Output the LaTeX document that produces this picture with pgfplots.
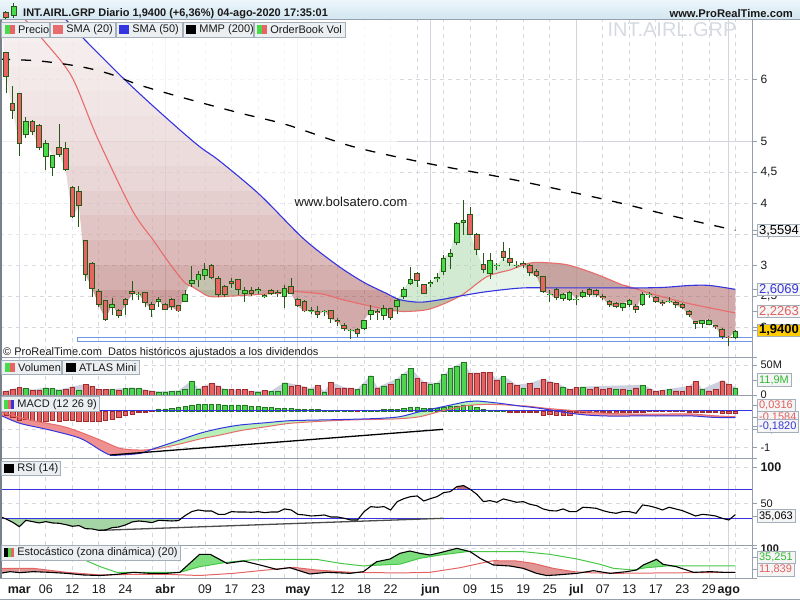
\documentclass[border=0pt]{standalone}
\usepackage{pgfplots}
\pgfplotsset{compat=1.18}
\usepackage{pgfplotstable}
\usepgfplotslibrary{fillbetween}
\usepackage{fontspec}
\setmainfont{Liberation Sans}

\definecolor{upc}{RGB}{72,218,72}
\definecolor{dnc}{RGB}{232,100,100}
\definecolor{edge}{RGB}{38,88,22}
\definecolor{smaR}{RGB}{232,108,108}
\definecolor{smaB}{RGB}{52,52,225}
\definecolor{gridd}{RGB}{214,216,222}
\definecolor{grids}{RGB}{210,212,222}
\definecolor{framec}{RGB}{150,160,172}
\definecolor{boxfill}{RGB}{236,239,242}
\definecolor{boxedge}{RGB}{165,175,186}
\definecolor{zonec}{RGB}{110,150,235}
\definecolor{volg}{RGB}{78,212,78}
\definecolor{volgE}{RGB}{35,120,35}
\definecolor{volr}{RGB}{228,98,98}
\definecolor{volrE}{RGB}{160,45,45}
\definecolor{atlas}{RGB}{204,207,222}
\definecolor{redBot}{RGB}{164,79,79}
\definecolor{redUni}{RGB}{173,100,100}
\definecolor{grnTop}{RGB}{164,213,164}
\definecolor{grnA}{RGB}{173,217,173}
\definecolor{grnB}{RGB}{213,235,213}
\definecolor{txtblue}{RGB}{55,55,215}
\definecolor{txtred}{RGB}{225,95,95}
\definecolor{txtgreen}{RGB}{50,185,50}
\definecolor{gold}{RGB}{255,204,0}
\definecolor{stG}{RGB}{70,200,70}
\definecolor{stR}{RGB}{228,100,100}
\definecolor{hdrTop}{RGB}{236,246,251}
\definecolor{hdrBot}{RGB}{210,229,240}
\definecolor{wm}{RGB}{214,218,224}
\definecolor{macdR}{RGB}{240,145,145}
\definecolor{macdG}{RGB}{185,240,185}
\definecolor{rsiG}{RGB}{165,212,165}
\definecolor{rsiR}{RGB}{190,110,110}
\definecolor{stGF}{RGB}{125,222,125}
\definecolor{stRF}{RGB}{225,150,150}

% rising candles: index, open, high, low, close
\pgfplotstableread{
i o h l c
1 5.09 5.38 5.05 5.32
4 4.74 5.02 4.54 4.96
5 4.56 4.78 4.44 4.77
14 2.30 2.46 2.20 2.37
18 2.51 2.56 2.44 2.54
21 2.40 2.48 2.32 2.45
25 2.41 2.59 2.40 2.54
26 2.70 2.99 2.65 2.76
27 2.75 2.91 2.65 2.86
28 2.82 3.03 2.76 2.94
34 2.53 2.64 2.41 2.60
36 2.58 2.64 2.54 2.61
37 2.49 2.54 2.46 2.52
40 2.48 2.67 2.30 2.63
44 2.25 2.33 2.21 2.28
46 2.24 2.27 2.17 2.26
50 1.93 1.97 1.80 1.95
52 1.96 2.12 1.95 2.11
53 2.19 2.35 2.12 2.27
55 2.17 2.35 2.12 2.31
57 2.33 2.47 2.21 2.44
58 2.49 2.65 2.45 2.62
59 2.69 2.96 2.67 2.77
62 2.69 2.75 2.64 2.72
63 2.78 2.87 2.72 2.80
64 2.88 3.16 2.84 3.12
65 3.13 3.25 2.93 3.20
66 3.35 3.70 3.32 3.67
67 3.68 4.05 3.48 3.73
71 2.85 3.20 2.77 3.08
72 2.98 3.03 2.92 3.00
75 2.98 3.07 2.95 3.00
80 2.51 2.60 2.40 2.53
82 2.45 2.55 2.42 2.53
83 2.44 2.58 2.42 2.57
84 2.43 2.51 2.35 2.45
85 2.49 2.59 2.46 2.56
91 2.30 2.39 2.25 2.38
92 2.36 2.45 2.33 2.43
94 2.36 2.56 2.34 2.54
95 2.51 2.56 2.46 2.53
98 2.40 2.49 2.38 2.42
103 2.05 2.12 1.98 2.11
104 2.04 2.13 2.03 2.12
108 1.82 1.95 1.81 1.94
}\upcandles

% falling candles
\pgfplotstableread{
i o h l c
-2 6.43 6.44 5.77 6.03
-1 5.62 5.89 5.35 5.49
0 5.77 5.78 4.76 4.95
2 5.33 5.34 5.09 5.14
3 5.25 5.27 4.85 4.88
6 4.90 5.27 4.74 4.78
7 4.88 4.98 4.52 4.53
8 4.26 4.27 3.76 3.78
9 4.20 4.28 3.62 3.95
10 3.40 3.41 2.74 2.84
11 3.04 3.05 2.48 2.62
12 2.58 2.61 2.33 2.35
13 2.43 2.44 2.10 2.12
15 2.28 2.29 2.14 2.18
16 2.45 2.46 2.20 2.35
17 2.58 2.74 2.43 2.53
19 2.56 2.57 2.32 2.38
20 2.37 2.41 2.16 2.28
22 2.37 2.38 2.27 2.28
23 2.45 2.46 2.27 2.32
24 2.35 2.36 2.24 2.25
29 3.00 3.01 2.77 2.79
30 2.79 2.82 2.48 2.51
31 2.66 2.68 2.49 2.51
32 2.74 2.79 2.63 2.69
33 2.77 2.78 2.52 2.60
35 2.60 2.64 2.50 2.53
38 2.60 2.62 2.51 2.53
39 2.57 2.60 2.49 2.53
41 2.66 2.79 2.53 2.54
42 2.45 2.46 2.32 2.34
43 2.42 2.43 2.24 2.25
45 2.26 2.34 2.15 2.19
47 2.27 2.28 2.06 2.13
48 2.11 2.14 2.01 2.08
49 2.03 2.06 1.94 1.96
51 1.97 1.98 1.84 1.89
54 2.26 2.29 2.11 2.22
56 2.30 2.31 2.12 2.14
60 2.87 2.88 2.65 2.74
61 2.69 2.70 2.53 2.54
68 3.82 3.94 3.48 3.49
69 3.50 3.51 3.16 3.24
70 3.02 3.20 2.87 2.92
73 3.22 3.37 3.07 3.12
74 3.12 3.27 2.99 3.03
76 3.03 3.07 2.95 3.00
77 3.00 3.01 2.82 2.87
78 2.91 2.93 2.80 2.82
79 2.82 2.83 2.55 2.57
81 2.62 2.63 2.43 2.46
86 2.61 2.63 2.48 2.51
87 2.60 2.61 2.48 2.51
88 2.50 2.53 2.43 2.46
89 2.42 2.44 2.33 2.35
90 2.39 2.40 2.30 2.32
93 2.34 2.37 2.23 2.28
96 2.49 2.50 2.39 2.41
97 2.41 2.43 2.34 2.37
99 2.40 2.42 2.31 2.35
100 2.37 2.38 2.29 2.31
101 2.26 2.27 2.16 2.19
102 2.09 2.10 1.97 2.05
105 2.03 2.04 1.97 2.00
106 1.97 1.98 1.80 1.84
107 1.84 1.85 1.69 1.82
}\dncandles

% closing prices (all sessions)
\pgfplotstableread{
i c
-2 6.03
-1 5.49
0 4.95
1 5.32
2 5.14
3 4.88
4 4.96
5 4.77
6 4.78
7 4.53
8 3.78
9 3.95
10 2.84
11 2.62
12 2.35
13 2.12
14 2.37
15 2.18
16 2.35
17 2.53
18 2.54
19 2.38
20 2.28
21 2.45
22 2.28
23 2.32
24 2.25
25 2.54
26 2.76
27 2.86
28 2.94
29 2.79
30 2.51
31 2.51
32 2.69
33 2.60
34 2.60
35 2.53
36 2.61
37 2.52
38 2.53
39 2.53
40 2.63
41 2.54
42 2.34
43 2.25
44 2.28
45 2.19
46 2.26
47 2.13
48 2.08
49 1.96
50 1.95
51 1.89
52 2.11
53 2.27
54 2.22
55 2.31
56 2.14
57 2.44
58 2.62
59 2.77
60 2.74
61 2.54
62 2.72
63 2.80
64 3.12
65 3.20
66 3.67
67 3.73
68 3.49
69 3.24
70 2.92
71 3.08
72 3.00
73 3.12
74 3.03
75 3.00
76 3.00
77 2.87
78 2.82
79 2.57
80 2.53
81 2.46
82 2.53
83 2.57
84 2.45
85 2.56
86 2.51
87 2.51
88 2.46
89 2.35
90 2.32
91 2.38
92 2.43
93 2.28
94 2.54
95 2.53
96 2.41
97 2.37
98 2.42
99 2.35
100 2.31
101 2.19
102 2.05
103 2.11
104 2.12
105 2.00
106 1.84
107 1.82
108 1.94
}\closes

\pgfplotstableread{
i v
-3 7.45
0.1 7.05
3.6 6.63
7.9 6.04
11.7 5.07
17.0 3.89
20.2 3.40
22.7 3.02
25 2.71
26 2.655
27.3 2.57
28.8 2.49
32.2 2.50
38.3 2.54
40 2.56
41 2.565
41.9 2.57
45.8 2.53
48.8 2.44
52.4 2.35
56 2.27
57 2.26
58.2 2.25
61.9 2.29
66.5 2.50
70.5 2.81
74.0 2.92
75 2.96
77.5 3.04
81.6 3.02
83.8 2.97
87.3 2.84
90.9 2.68
91.5 2.665
95.9 2.52
100.9 2.38
108 2.2263
}\smaA

\pgfplotstableread{
i v
-3 7.90
6.1 7.05
9.9 6.63
15.6 6.02
19.7 5.61
24.2 5.18
27.3 4.90
30.3 4.67
36.3 4.13
42.8 3.43
47.9 3.00
51.8 2.73
55.4 2.54
57.4 2.44
60.4 2.40
63.5 2.44
66.5 2.50
70.5 2.57
75.9 2.63
81.6 2.63
87.6 2.63
91.5 2.63
93.6 2.63
97.4 2.64
101.1 2.67
104.1 2.67
108 2.6069
}\smaB

\pgfplotstableread{
i v
-2.9 6.32
3.1 6.29
9.2 6.20
13.7 6.08
18.2 5.90
25.3 5.68
33.3 5.45
40.4 5.26
50.3 4.91
61.5 4.64
72.5 4.42
83.1 4.18
90.6 4.00
98.9 3.78
108 3.5594
}\mmp

\pgfplotstableread{
i v
1 10.8
4 11.9
5 10.8
6 8.1
9 8.1
14 9.7
16 10.8
17 11.9
18 10.8
21 5.3
22 5.3
23 6.4
24 6.9
25 9.2
26 23.1
27 9.7
31 9.2
36 5.3
38 6.4
39 6.4
40 20.3
44 9.7
46 5.3
51 9.2
52 18.1
53 31.9
55 15.3
57 26.4
58 34.2
59 44.2
62 17.5
63 19.2
64 34.2
65 44.2
66 48.1
67 54.2
73 31.4
76 10.8
82 12.5
85 13.6
90 9.2
92 8.1
94 16.4
98 9.2
103 9.2
108 11.9
}\volG

\pgfplotstableread{
i v
-2 6.4
-1 9.2
0 12.5
2 8.1
3 8.1
7 9.2
8 13.6
10 18.1
11 14.7
12 9.2
13 9.2
15 8.1
19 8.1
20 6.4
28 14.7
29 19.2
30 15.3
32 9.2
33 9.2
34 9.2
35 6.4
37 8.1
41 15.3
42 16.4
43 13.6
45 16.4
47 20.8
48 10.8
49 11.9
50 11.9
54 11.9
56 18.1
60 27.5
61 20.8
68 35.8
69 35.8
70 37.5
71 37.5
72 24.7
74 19.2
75 16.4
77 19.2
78 10.8
79 25.8
80 20.8
81 19.2
83 9.2
84 12.5
86 9.2
87 12.5
88 9.2
89 10.8
91 9.2
93 11.9
95 9.2
96 6.4
97 8.1
99 6.9
100 6.4
101 14.7
102 23.1
104 6.9
105 9.2
106 23.6
107 18.1
}\volR

\pgfplotstableread{
i v
-2.9 5
-2 7
0 13
2 9
4 12.5
6 9
8 14
10 18.5
12 10
14 10
17 12.5
19 9
21 6
24 7.5
26 24
27 11
29 20
31 10
35 7
38 7
40 21
42 17
44 11
45 17
46 6
47 21.5
49 13
51 10
53 33
54 13
57 27.5
59 45
61 22
63 20
65 45
67 55
68 37
71 38
72 26
73 32
75 17
77 20
79 27
81 20
83 10
85 14
94 17
96 7
101 15
102 24
103 10
106 24.5
108 13
}\atlas

\pgfplotstableread{
i h
21 0.055
22 0.055
23 0.073
24 0.1
25 0.136
26 0.164
27 0.19
28 0.19
29 0.19
30 0.19
31 0.164
32 0.164
33 0.164
34 0.164
35 0.136
36 0.118
37 0.1
38 0.091
39 0.073
40 0.073
41 0.073
42 0.055
43 0.045
44 0.045
45 0.045
46 0.027
47 0.027
48 0.01
49 0.004
50 0.004
52 0.004
53 0.027
54 0.027
55 0.045
56 0.045
57 0.045
58 0.073
59 0.091
60 0.091
61 0.073
62 0.073
63 0.073
64 0.1
65 0.118
66 0.136
67 0.164
68 0.164
69 0.091
70 0.045
71 0.01
72 0.004
73 0.004
}\histP

\pgfplotstableread{
i h
-2 -0.11
-1 -0.173
0 -0.245
1 -0.218
2 -0.245
3 -0.273
4 -0.273
5 -0.245
6 -0.273
7 -0.245
8 -0.245
9 -0.273
10 -0.273
11 -0.273
12 -0.273
13 -0.245
14 -0.218
15 -0.173
16 -0.127
17 -0.082
18 -0.045
19 -0.027
20 -0.01
51 -0.018
74 -0.036
75 -0.036
76 -0.036
77 -0.036
78 -0.045
79 -0.109
80 -0.082
81 -0.109
82 -0.109
83 -0.109
84 -0.045
85 -0.045
86 -0.045
87 -0.045
88 -0.045
89 -0.045
90 -0.064
91 -0.045
92 -0.045
93 -0.036
94 -0.036
95 -0.009
96 -0.009
97 -0.009
98 -0.009
99 -0.009
100 -0.009
101 -0.036
102 -0.036
103 -0.036
104 -0.036
105 -0.045
106 -0.064
107 -0.064
108 -0.064
}\histN

\pgfplotstableread{
i v
-2.9 -0.109
0.1 -0.336
4.6 -0.518
9.2 -0.745
12.2 -1.064
13.7 -1.2
15.2 -1.2
18.2 -1.155
20 -1.045
21.2 -0.973
24.2 -0.791
27.2 -0.609
30.3 -0.473
33.3 -0.382
37.3 -0.318
40.8 -0.264
45.3 -0.245
49.9 -0.227
54.4 -0.2
57.4 -0.155
60.4 -0.018
63.9 0.118
67.5 0.255
69.0 0.273
72.5 0.209
75.5 0.136
78.5 0.073
82.5 -0.045
85.5 -0.109
88.6 -0.136
92.6 -0.136
97.6 -0.136
101.6 -0.136
104.6 -0.173
108 -0.182
}\macd

\pgfplotstableread{
i v
-2.9 -0.018
1.6 -0.245
7.1 -0.445
12.2 -0.791
15.2 -1.018
18.2 -1.064
20 -1.045
21.2 -1.018
24.2 -0.9
27.2 -0.764
30.3 -0.655
33.3 -0.536
37.3 -0.427
40.8 -0.336
45.3 -0.282
49.9 -0.245
54.4 -0.227
57.4 -0.21
60.4 -0.155
63.9 0.009
67.5 0.145
70.5 0.18
73.5 0.164
75.5 0.14
76.5 0.136
79.5 0.073
82.5 0.027
85.5 -0.018
88.6 -0.064
92.6 -0.082
97.6 -0.082
101.6 -0.082
104.6 -0.127
108 -0.158
}\signal

\pgfplotstableread{
i v
-2.9 32.3
-2 29.1
-1 24.5
0 18.5
1 27.2
2 25.4
3 23.6
4 25.4
5 23.6
6 23.1
7 21.3
8 19.0
9 19.9
10 15.7
11 15.3
12 13.4
13 13.9
14 17.1
15 18.0
16 20.8
17 24.9
18 26.3
19 25.4
20 24.0
21 27.2
22 26.8
23 26.3
24 26.8
25 33.7
26 39.2
27 41.5
28 40.1
29 40.1
30 35.5
31 35.5
32 39.2
33 38.7
34 38.7
35 38.3
36 39.2
37 37.8
38 38.7
39 38.7
40 42.9
41 41.5
42 35.5
43 34.6
44 33.2
45 33.7
46 34.6
47 31.8
48 31.8
49 30.0
50 27.7
51 27.7
52 39.2
53 46.1
54 45.2
55 46.1
56 41.5
57 53.0
58 57.1
59 59.9
60 60.8
61 53.9
62 57.1
63 59.9
64 65.4
65 66.8
66 73.7
67 75.1
68 70.0
69 63.1
70 53.0
71 54.4
72 52.1
73 56.7
74 54.4
75 52.1
76 53.0
77 49.3
78 47.5
79 42.9
80 40.6
81 40.1
82 42.9
83 39.2
84 39.2
85 45.2
86 44.7
87 43.8
88 40.6
89 38.3
90 36.9
91 39.2
92 39.2
93 36.9
94 48.4
95 47.0
96 44.7
97 41.5
98 45.2
99 42.9
100 40.6
101 36.9
102 33.2
103 35.5
104 34.6
105 33.2
106 30.0
107 27.7
108 35.06
}\rsi

\pgfplotstableread{
i v
-2.9 8.0
-1.4 14.2
0.1 10.5
2.1 14.2
4.6 11.7
7.1 8.0
9.7 1.9
12.2 0
14.7 4.3
17.2 11.7
19.7 8.0
22.2 8.0
24.2 11.7
27.2 78.4
28.8 78.4
31.3 45.1
33.8 53.7
36.3 38.9
38.8 22.8
40.8 29.0
43.8 5.6
46.4 11.7
49.9 8.0
51.9 14.2
53.9 51.2
55.9 61.0
57.4 82.1
58.9 90.7
60.4 82.1
61.9 75.9
63.5 84.6
66.0 100.6
68.0 88.3
69.5 63.6
71.5 38.9
74.0 35.2
76.0 26.5
78.0 8.0
79.5 0
81.0 1.9
84.1 8.0
86.6 17.9
89.1 8.0
91.6 14.2
93.1 20.4
94.1 38.9
96.1 59.9
97.1 41.4
99.1 32.7
101.7 11.7
104.2 14.2
106.2 11.7
108 11.7
}\stK

\pgfplotstableread{
i v
-2.9 98
4 90
9 70
10.2 53.7
12.2 32.7
14.7 11.7
24.2 11.7
27.2 32.7
31.3 48.8
34.8 57.4
38.3 59.9
44.8 59.9
48.4 45.1
51.9 35.2
52.5 36.5
57.4 42
60.4 63.6
63.5 75.9
67.5 88.3
76.0 88.3
80.0 78.4
84.1 61.1
87.6 41.4
89.6 26.5
92.6 20.4
93.5 24.5
94.6 29.0
97.6 35.2
108 35.25
}\stGr

\pgfplotstableread{
i v
-2.9 26.5
2.1 26.5
7.1 11.7
12.2 1.9
17.2 4.3
22.2 4.3
27.2 0
32.3 8.0
37.3 20.4
38.8 24.0
41.3 30.2
44.8 20.4
49.9 11.7
57.4 9.5
61.9 11.7
66.5 29.0
69.5 45.1
71.5 54.9
75.0 53.7
77.5 45.1
80.5 26.5
83.6 14.2
85.6 10.5
89.6 8.0
108 11.84
}\stRd

\pgfplotsset{
  panel/.style={
    scale only axis, anchor=south west, width=752pt,
    xmin=-2.911, xmax=110.5,
    axis line style={draw=none},
    xtick={4,8,...,108}, xticklabels={}, xtick style={draw=none},
    xmajorgrids=true, ymajorgrids=true,
    major grid style={gridd, line width=0.8pt, dash pattern=on 4pt off 4pt},
    extra x ticks={0,22,42,62,84,107}, extra x tick labels={},
    extra x tick style={major tick length=0pt, grid=major,
        major grid style={grids, line width=0.8pt, solid}},
    ytick pos=right, yticklabel pos=right,
    tick align=outside, major tick length=5pt,
    ytick style={framec, line width=0.8pt},
    yticklabel style={font=\fontsize{11}{13}\selectfont, anchor=west, text=black!90},
    /pgf/number format/use comma,
    /pgf/number format/assume math mode=true,
  },
  np/.style={draw=none, forget plot},
}

\newcommand{\legbox}[5]{%
  \draw[fill=boxfill, draw=boxedge, line width=0.8pt] (#1,#3-7.4) rectangle (#2,#3+7.4);
  \begin{scope}[shift={(#1,#3)}] #4 \end{scope}
  \node[anchor=west, inner sep=0, font=\fontsize{11}{13}\selectfont, text=black!90] at (#1+16.2,#3) {#5};}
% value box: y, text colour, fill, font size, text
\newcommand{\valbox}[5]{%
  \draw[framec, line width=0.8pt] (752,#1) -- (757,#1);
  \node[anchor=west, draw=boxedge, fill=#3, text=#2, line width=0.8pt, inner xsep=2.2pt, inner ysep=0pt,
        minimum height=12.3pt, font=\fontsize{#4}{#4}\selectfont] at (756.5,#1) {#5};}

\begin{document}
\begin{tikzpicture}[x=1pt,y=1pt]

% ================= MAIN PRICE PANEL =================
\begin{axis}[panel, at={(0pt,242pt)}, height=338pt, ymin=1.5, ymax=6.9516,
  ytick={2,2.5,3,3.5,4,4.5,6}, extra y ticks={5}, extra y tick labels={5},
  yticklabel style={font=\fontsize{12}{14}\selectfont},
  extra y tick style={grid=major, major grid style={grids, line width=0.8pt, solid}}]
% SMA20 vs SMA50 zones
\addplot[np, smooth, name path=sa1, restrict x to domain=-3:66.5] table[x=i,y=v]{\smaA};
\addplot[np, smooth, name path=sb1, restrict x to domain=-3:66.5] table[x=i,y=v]{\smaB};
\addplot[draw=none, fill=redBot, fill opacity=0.55] fill between[of=sa1 and sb1];
\addplot[np, smooth, name path=sa2, restrict x to domain=66.5:91.5] table[x=i,y=v]{\smaA};
\addplot[np, smooth, name path=sb2, restrict x to domain=66.5:91.5] table[x=i,y=v]{\smaB};
\addplot[draw=none, fill=grnB, fill opacity=0.55] fill between[of=sa2 and sb2];
\addplot[np, smooth, name path=sa3, restrict x to domain=91.5:111] table[x=i,y=v]{\smaA};
\addplot[np, smooth, name path=sb3, restrict x to domain=91.5:111] table[x=i,y=v]{\smaB};
\addplot[draw=none, fill=redUni, fill opacity=0.55] fill between[of=sa3 and sb3];
% close vs SMA20 zones
\addplot[np, name path=c1, restrict x to domain=-3:26] table[x=i,y=c]{\closes};
\addplot[np, smooth, name path=a1, restrict x to domain=-3:26] table[x=i,y=v]{\smaA};
\addplot[draw=none, fill=redBot, fill opacity=0.55] fill between[of=c1 and a1];
\addplot[np, name path=c2, restrict x to domain=25:41] table[x=i,y=c]{\closes};
\addplot[np, smooth, name path=a2, restrict x to domain=25:41] table[x=i,y=v]{\smaA};
\addplot[draw=none, fill=grnTop, fill opacity=0.45] fill between[of=c2 and a2];
\addplot[np, name path=c3, restrict x to domain=40:57] table[x=i,y=c]{\closes};
\addplot[np, smooth, name path=a3, restrict x to domain=40:57] table[x=i,y=v]{\smaA};
\addplot[draw=none, fill=redUni, fill opacity=0.55] fill between[of=c3 and a3];
\addplot[np, name path=c4, restrict x to domain=56:75] table[x=i,y=c]{\closes};
\addplot[np, smooth, name path=a4, restrict x to domain=56:75] table[x=i,y=v]{\smaA};
\addplot[draw=none, fill=grnA, fill opacity=0.55] fill between[of=c4 and a4];
\addplot[np, name path=c5, restrict x to domain=75:111] table[x=i,y=c]{\closes};
\addplot[np, smooth, name path=a5, restrict x to domain=75:111] table[x=i,y=v]{\smaA};
\addplot[draw=none, fill=redUni, fill opacity=0.55] fill between[of=c5 and a5];
% vertical fade of the zones (lighter towards the top)
\pgfplotsinvokeforeach{2.6,3.0,3.4,3.8,4.2,4.6,5.0,5.4,5.8,6.2,6.6}{
  \addplot[draw=none, fill=white, fill opacity=0.16, forget plot] coordinates {(-3,#1) (57,#1) (57,8) (-3,8)} -- cycle;
}
\addplot[smaR, line width=1.1pt, smooth] table[x=i,y=v]{\smaA};
\addplot[smaB, line width=1.1pt, smooth] table[x=i,y=v]{\smaB};
\addplot[black, line width=1.3pt, dash pattern=on 10pt off 11pt, smooth] table[x=i,y=v]{\mmp};
\addplot[zonec, line width=1pt] coordinates {(112,1.834) (8.85,1.834) (8.85,1.774) (112,1.774)};
% candles: wicks (low to high) and bodies (open to close), drawn as vertical segments
\addplot[forget plot, edge, line width=1pt, -, quiver={u=0, v=\thisrow{h}-\thisrow{l}}] table[x=i, y=l]{\upcandles};
\addplot[forget plot, edge, line width=1pt, -, quiver={u=0, v=\thisrow{h}-\thisrow{l}}] table[x=i, y=l]{\dncandles};
\addplot[forget plot, edge, line width=5.6pt, -, quiver={u=0, v=\thisrow{c}-\thisrow{o}}] table[x=i, y=o]{\upcandles};
\addplot[forget plot, edge, line width=5.6pt, -, quiver={u=0, v=\thisrow{o}-\thisrow{c}}] table[x=i, y=c]{\dncandles};
\addplot[forget plot, upc, line width=3.6pt, -, quiver={u=0, v=\thisrow{c}-\thisrow{o}-0.032}] table[x=i, y expr=\thisrow{o}+0.016]{\upcandles};
\addplot[forget plot, dnc, line width=3.6pt, -, quiver={u=0, v=\thisrow{o}-\thisrow{c}-0.032}] table[x=i, y expr=\thisrow{c}+0.016]{\dncandles};
\end{axis}

% ================= VOLUME =================
\begin{axis}[panel, at={(0pt,204pt)}, height=38pt, ymin=-1.667, ymax=61.667,
  ytick={0,50}, yticklabels={0,50M}]
\addplot[fill=atlas, draw=none] table[x=i,y=v]{\atlas} \closedcycle;
\addplot[ybar, bar width=4.6pt, bar shift=0pt, fill=volg, draw=volgE, line width=0.6pt] table[x=i,y=v]{\volG};
\addplot[ybar, bar width=4.6pt, bar shift=0pt, fill=volr, draw=volrE, line width=0.6pt] table[x=i,y=v]{\volR};
\end{axis}

% ================= MACD =================
\begin{axis}[panel, at={(0pt,142pt)}, height=62pt, ymin=-1.2807, ymax=0.4087,
  ytick={-1,-0.5}, yticklabels={-1,{-0,5}}]
\addplot[ybar, bar width=4.4pt, bar shift=0pt, fill=volg, draw=volgE, line width=0.6pt] table[x=i,y=h]{\histP};
\addplot[ybar, bar width=4.4pt, bar shift=0pt, fill=volr, draw=volrE, line width=0.6pt] table[x=i,y=h]{\histN};
\addplot[np, smooth, name path=m1, restrict x to domain=-3:20] table[x=i,y=v]{\macd};
\addplot[np, smooth, name path=s1, restrict x to domain=-3:20] table[x=i,y=v]{\signal};
\addplot[draw=none, fill=macdR] fill between[of=m1 and s1];
\addplot[np, smooth, name path=m2, restrict x to domain=20:75.5] table[x=i,y=v]{\macd};
\addplot[np, smooth, name path=s2, restrict x to domain=20:75.5] table[x=i,y=v]{\signal};
\addplot[draw=none, fill=macdG] fill between[of=m2 and s2];
\addplot[np, smooth, name path=m3, restrict x to domain=75.5:111] table[x=i,y=v]{\macd};
\addplot[np, smooth, name path=s3, restrict x to domain=75.5:111] table[x=i,y=v]{\signal};
\addplot[draw=none, fill=macdR] fill between[of=m3 and s3];
\addplot[smaB, line width=1pt] coordinates {(-3,0) (111,0)};
\addplot[smaR, line width=1pt, smooth] table[x=i,y=v]{\signal};
\addplot[smaB, line width=1pt, smooth] table[x=i,y=v]{\macd};
\addplot[black, line width=1.3pt] coordinates {(13.7,-1.2) (63.9,-0.5)};
\end{axis}

% ================= RSI =================
\begin{axis}[panel, at={(0pt,55pt)}, height=87pt, ymin=-6.83, ymax=113.17,
  ytick={50,100}, yticklabels={50,{\fontsize{12.5}{14}\selectfont\textbf{100}}}]
\addplot[np, name path=r1, restrict x to domain=-3:24.5] table[x=i,y=v]{\rsi};
\addplot[np, name path=t1] coordinates {(-2.9,30) (24,30)};
\addplot[draw=none, fill=rsiG] fill between[of=r1 and t1];
\addplot[np, name path=r2, restrict x to domain=49:51.5] table[x=i,y=v]{\rsi};
\addplot[np, name path=t2] coordinates {(49,30) (51,30)};
\addplot[draw=none, fill=rsiG] fill between[of=r2 and t2];
\addplot[np, name path=r3, restrict x to domain=106:107.5] table[x=i,y=v]{\rsi};
\addplot[np, name path=t3] coordinates {(106,30) (107,30)};
\addplot[draw=none, fill=rsiG] fill between[of=r3 and t3];
\addplot[np, name path=r4, restrict x to domain=65.6:68.4] table[x=i,y=v]{\rsi};
\addplot[np, name path=t4] coordinates {(66,70) (68,70)};
\addplot[draw=none, fill=rsiR] fill between[of=r4 and t4];
\addplot[smaB, line width=1pt] coordinates {(-3,30) (111,30)};
\addplot[smaB, line width=1pt] coordinates {(-3,70) (111,70)};
\addplot[black!70, line width=1.3pt] coordinates {(12.2,13.4) (63.9,30)};
\addplot[black, line width=1.1pt] table[x=i,y=v]{\rsi};
\end{axis}

% ================= STOCHASTIC =================
\begin{axis}[panel, at={(0pt,22pt)}, height=33pt, ymin=-9.26, ymax=112.96,
  ytick={100}, yticklabels={\textbf{100}},
  xtick={0,4,8,12,16,22,28,32,36,42,48,52,56,62,68,72,76,80,84,88,92,96,100,104,107},
  xticklabels={\textbf{mar},06,12,18,24,\textbf{abr},09,17,23,\textbf{may},12,18,22,\textbf{jun},09,15,19,25,\textbf{jul},07,13,17,23,29,\textbf{ago}},
  xmajorgrids=false,
  extra x ticks={4,8,...,108}, extra x tick labels={},
  extra x tick style={major tick length=0pt, grid=major, major grid style={gridd, line width=0.8pt, dash pattern=on 4pt off 4pt}},
  xticklabel style={font=\fontsize{12.5}{14}\selectfont, anchor=base, yshift=-10.5pt, text=black!90}]
\pgfplotsinvokeforeach{0,22,42,62,84,107}{\draw[grids, line width=0.8pt] (axis cs:#1,-9.26) -- (axis cs:#1,112.96);}
\addplot[np, name path=k1, restrict x to domain=24:31.5] table[x=i,y=v]{\stK};
\addplot[np, name path=g1, restrict x to domain=24:31.5] table[x=i,y=v]{\stGr};
\addplot[draw=none, fill=stGF] fill between[of=k1 and g1];
\addplot[np, name path=k2, restrict x to domain=52:68.5] table[x=i,y=v]{\stK};
\addplot[np, name path=g2, restrict x to domain=52:68.5] table[x=i,y=v]{\stGr};
\addplot[draw=none, fill=stGF] fill between[of=k2 and g2];
\addplot[np, name path=k3, restrict x to domain=93.3:98] table[x=i,y=v]{\stK};
\addplot[np, name path=g3, restrict x to domain=93.3:98] table[x=i,y=v]{\stGr};
\addplot[draw=none, fill=stGF] fill between[of=k3 and g3];
\addplot[np, name path=k4, restrict x to domain=-3:14] table[x=i,y=v]{\stK};
\addplot[np, name path=q4, restrict x to domain=-3:14] table[x=i,y=v]{\stRd};
\addplot[draw=none, fill=stRF] fill between[of=k4 and q4];
\addplot[np, name path=k5, restrict x to domain=38.5:51] table[x=i,y=v]{\stK};
\addplot[np, name path=q5, restrict x to domain=38.5:51] table[x=i,y=v]{\stRd};
\addplot[draw=none, fill=stRF] fill between[of=k5 and q5];
\addplot[np, name path=k6, restrict x to domain=70.5:85.3] table[x=i,y=v]{\stK};
\addplot[np, name path=q6, restrict x to domain=70.5:85.3] table[x=i,y=v]{\stRd};
\addplot[draw=none, fill=stRF] fill between[of=k6 and q6];
\addplot[stG, line width=1pt] table[x=i,y=v]{\stGr};
\addplot[stR, line width=1pt] table[x=i,y=v]{\stRd};
\addplot[black, line width=1.1pt] table[x=i,y=v]{\stK};
\end{axis}

% ================= FRAMES =================
\shade[top color=hdrTop, bottom color=hdrBot] (0,580) rectangle (800,600);
\draw[framec, line width=1pt] (0,580) -- (800,580);
\foreach \yy in {242,204,142,55,22} {\draw[framec, line width=1pt] (0,\yy) -- (757,\yy);}
\draw[framec, line width=1pt] (752,22) -- (752,580);
\draw[framec!80!black, line width=1.6pt] (0.8,22) -- (0.8,580);
\draw[framec, line width=1pt] (0,0.5) -- (800,0.5);

% header
\draw[edge, line width=0.8pt] (5.7,589) -- (5.7,581);
\filldraw[fill=dnc, draw=edge, line width=0.6pt] (3.5,587.3) rectangle (8,582.7);
\draw[edge, line width=0.8pt] (13.5,596.7) -- (13.5,582.3);
\filldraw[fill=upc, draw=edge, line width=0.6pt] (11,593.3) rectangle (16,584.7);
\node[anchor=west, inner sep=0, font=\bfseries\fontsize{11}{13}\selectfont, text=black!90] at (23,586.5) {INT.AIRL.GRP Diario 1,9400 (+6,36\%) 04-ago-2020 17:35:01};
\node[anchor=east, inner sep=0, font=\bfseries\fontsize{11.2}{13}\selectfont, text=black!90] at (793,586.5) {www.ProRealTime.com};

% watermark
\node[font=\fontsize{20}{22}\selectfont, text=wm] at (672,570.5) {INT.AIRL.GRP};

% main legend
\legbox{1.7}{49}{570}{\fill[upc] (3.3,-4.5) rectangle (8.3,4.5); \fill[dnc] (8.3,-4.5) rectangle (13.3,4.5);}{Precio}
\legbox{50}{115}{570}{\fill[smaR] (3.3,-4.5) rectangle (13.3,4.5);}{SMA (20)}
\legbox{116}{182}{570}{\fill[smaB] (3.3,-4.5) rectangle (13.3,4.5);}{SMA (50)}
\legbox{183}{253}{570}{\fill[black] (3.3,-4.5) rectangle (13.3,4.5);}{MMP (200)}
\legbox{254}{345}{570}{\fill[upc] (3.3,-4.5) rectangle (8.3,4.5); \fill[dnc] (8.3,-4.5) rectangle (13.3,4.5);}{OrderBook Vol}

% copyright
\node[anchor=west, inner sep=0, font=\fontsize{11}{13}\selectfont, text=black!90] at (3,247.7) {© ProRealTime.com\ \ Datos históricos ajustados a los dividendos};
\node[font=\fontsize{13}{15}\selectfont, text=black!90] at (351,398.3) {www.bolsatero.com};

% panel legends
\legbox{1.7}{61.7}{232.5}{\fill[upc] (3.3,-4.5) rectangle (8.3,4.5); \fill[dnc] (8.3,-4.5) rectangle (13.3,4.5);}{Volumen}
\legbox{62.7}{139}{232.5}{\fill[black] (3.3,-4.5) rectangle (13.3,4.5);}{ATLAS Mini}
\legbox{1}{99}{195.8}{\fill[upc] (3.3,-4.5) rectangle (6.6,4.5); \fill[dnc] (6.6,-4.5) rectangle (10,4.5); \fill[smaB] (10,-4.5) rectangle (13.3,4.5);}{MACD (12 26 9)}
\legbox{1}{60}{131.6}{\fill[black] (3.3,-4.5) rectangle (13.3,4.5);}{RSI (14)}
\legbox{1}{180}{47.5}{\fill[black] (3.3,-4.5) rectangle (6.6,4.5); \fill[upc] (6.6,-4.5) rectangle (10,4.5); \fill[dnc] (10,-4.5) rectangle (13.3,4.5);}{Estocástico (zona dinámica) (20)}

% value boxes
\valbox{369.5}{black}{black!4}{13}{3,5594}
\valbox{310.7}{txtblue}{black!4}{13}{2,6069}
\valbox{288.5}{txtred}{black!4}{13}{2,2263}
\valbox{269.7}{black}{gold}{13}{\textbf{1,9400}}
\valbox{220}{txtgreen}{black!4}{11}{11,9M}
\valbox{194.7}{txtred}{black!4}{11}{0,0316}
\valbox{182.5}{txtred}{black!4}{11}{-0,1584}
\valbox{174}{txtblue}{black!4}{11}{-0,1820}
\valbox{84}{black}{black!4}{11}{35,063}
\valbox{42.5}{txtgreen}{black!4}{11}{35,251}
\valbox{30.2}{txtred}{black!4}{11}{11,839}

\pgfresetboundingbox
\path[use as bounding box] (0,0) rectangle (800,600);
\end{tikzpicture}
\end{document}
